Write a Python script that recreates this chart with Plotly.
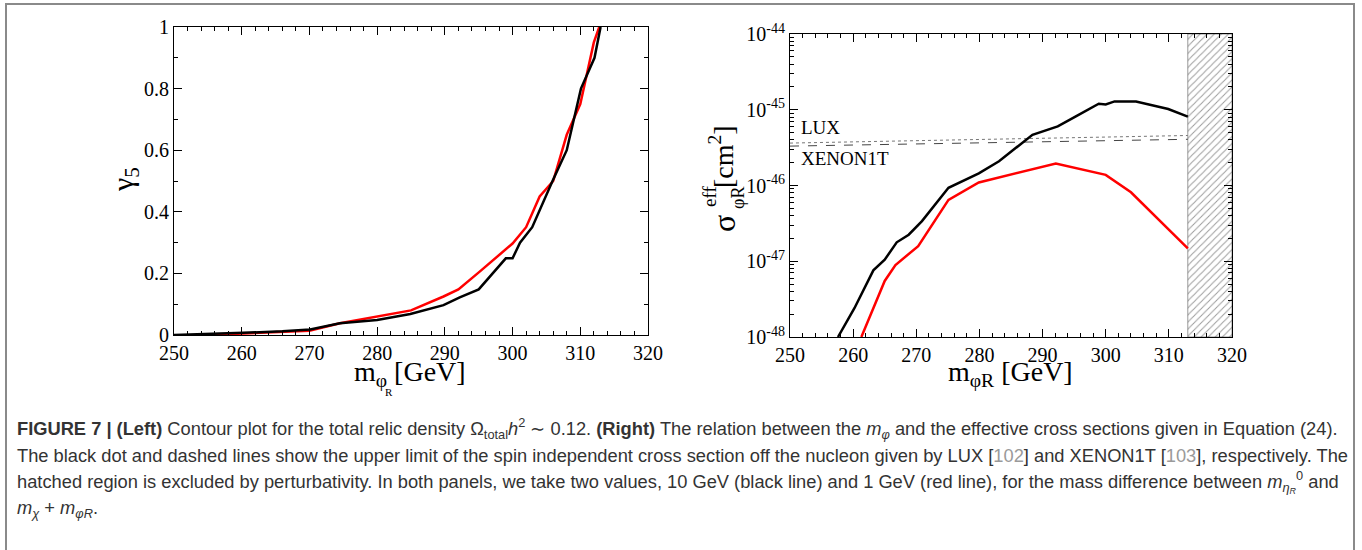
import plotly.graph_objects as go

# ---------------- data ----------------
# Left panel: gamma_5 vs m_phiR
left_black_m = [250, 255.3, 260.2, 266, 270.1, 274.5, 280, 284.9, 289.8, 292.2, 295.0,
                299, 300, 301.1, 302.9, 305.9, 308, 310.1, 312.1, 313]
left_black_g = [0.0, 0.003, 0.007, 0.012, 0.018, 0.038, 0.049, 0.068, 0.097, 0.122, 0.148,
                0.249, 0.249, 0.30, 0.35, 0.50, 0.60, 0.80, 0.90, 1.0]
left_red_m = [255.1, 260.2, 266, 270, 274.5, 280, 285, 289.8, 292, 295.1, 300, 302,
              304, 306, 308, 310, 312, 312.8]
left_red_g = [0.0, 0.004, 0.009, 0.014, 0.038, 0.06, 0.08, 0.125, 0.148, 0.205, 0.297, 0.35,
              0.45, 0.50, 0.65, 0.75, 0.95, 1.0]

# Right panel: effective cross section (log10 values) vs m_phiR
right_black_m = [257.6, 260.2, 263.2, 265.0, 266.9, 268.8, 270.9, 275.1, 279.9, 283.1, 288.4,
                 292.4, 295.2, 298.9, 300.0, 301.4, 304.8, 307.6, 309.9, 313.0]
right_black_log = [-48.0, -47.62, -47.12, -46.98, -46.75, -46.65, -46.47, -46.03, -45.84, -45.68,
                   -45.33, -45.22, -45.09, -44.92, -44.93, -44.89, -44.89, -44.95, -44.99, -45.09]
right_red_m = [261.3, 265.0, 266.7, 270.3, 275.1, 279.9, 292.1, 300.0, 304.0, 307.3, 313.0]
right_red_log = [-48.0, -47.26, -47.05, -46.80, -46.19, -45.96, -45.71, -45.86, -46.09, -46.36, -46.83]

lux_m = [250, 313]
lux_log = [-45.44, -45.34]
xenon_m = [250, 313]
xenon_log = [-45.48, -45.39]

hatch_m = [313, 320]

left_xticks = [250, 260, 270, 280, 290, 300, 310, 320]
left_yticks = [0, 0.2, 0.4, 0.6, 0.8, 1.0]
left_yticklabels = ["0", "0.2", "0.4", "0.6", "0.8", "1"]
right_yexps = [-48, -47, -46, -45, -44]

# ---------------- figure ----------------
W, H = 1362, 550
SERIF = "Liberation Serif"
CAP = "Liberation Sans"


def px(x):
    return x / W


def py(y):
    return 1 - y / H


fig = go.Figure()

fig.add_trace(go.Scatter(x=left_red_m, y=left_red_g, mode="lines",
                         line=dict(color="#ff0000", width=2.5), xaxis="x", yaxis="y"))
fig.add_trace(go.Scatter(x=left_black_m, y=left_black_g, mode="lines",
                         line=dict(color="black", width=2.5), xaxis="x", yaxis="y"))

# hatched region
fig.add_trace(go.Scatter(x=[hatch_m[0], hatch_m[1], hatch_m[1], hatch_m[0], hatch_m[0]],
                         y=[1e-48, 1e-48, 1e-44, 1e-44, 1e-48],
                         mode="lines", fill="toself", fillcolor="white",
                         fillpattern=dict(shape="/", fgcolor="#3a3a3a", bgcolor="white",
                                          size=5, solidity=0.2),
                         line=dict(color="#555555", width=0.6), xaxis="x2", yaxis="y2"))

fig.add_trace(go.Scatter(x=lux_m, y=[10 ** v for v in lux_log], mode="lines",
                         line=dict(color="#777777", width=1, dash="dot"), xaxis="x2", yaxis="y2"))
fig.add_trace(go.Scatter(x=xenon_m, y=[10 ** v for v in xenon_log], mode="lines",
                         line=dict(color="#444444", width=1, dash="dash"), xaxis="x2", yaxis="y2"))
fig.add_trace(go.Scatter(x=right_red_m, y=[10 ** v for v in right_red_log], mode="lines",
                         line=dict(color="#ff0000", width=2.5), xaxis="x2", yaxis="y2"))
fig.add_trace(go.Scatter(x=right_black_m, y=[10 ** v for v in right_black_log], mode="lines",
                         line=dict(color="black", width=2.5), xaxis="x2", yaxis="y2"))

axis_common = dict(showline=True, linecolor="black", linewidth=1, mirror="allticks",
                   ticks="inside", ticklen=8, tickcolor="black", tickwidth=1,
                   showgrid=False, zeroline=False, automargin=False,
                   tickfont=dict(family=SERIF, size=20, color="black"))

minor_vals = [k * 10.0 ** e for e in range(-48, -44) for k in range(2, 10)]

fig.update_layout(
    width=W, height=H, margin=dict(l=0, r=0, t=0, b=0, autoexpand=False),
    paper_bgcolor="white", plot_bgcolor="white", showlegend=False,
    xaxis=dict(domain=[px(174), px(648)], range=[250, 320], anchor="y",
               tickvals=left_xticks, ticktext=[str(v) for v in left_xticks],
               minor=dict(ticks="inside", ticklen=4, dtick=2, tick0=250, tickcolor="black"),
               **axis_common),
    yaxis=dict(domain=[py(335), py(27)], range=[0, 1], anchor="x",
               tickvals=left_yticks, ticktext=left_yticklabels,
               minor=dict(ticks="inside", ticklen=4, dtick=0.1, tick0=0, tickcolor="black"),
               **axis_common),
    xaxis2=dict(domain=[px(790), px(1232)], range=[250, 320], anchor="y2",
                tickvals=left_xticks, ticktext=[str(v) for v in left_xticks],
                minor=dict(ticks="inside", ticklen=4, dtick=2, tick0=250, tickcolor="black"),
                **axis_common),
    yaxis2=dict(domain=[py(337), py(34)], type="log", range=[-48, -44], anchor="x2",
                tickvals=[10.0 ** e for e in right_yexps],
                ticktext=["10<sup>%d</sup>" % e for e in right_yexps],
                minor=dict(ticks="inside", ticklen=4, tickvals=minor_vals, tickcolor="black"),
                **axis_common),
)

ann = []


def lab(x, y, text, size, angle=0, xanchor="center"):
    ann.append(dict(x=px(x), y=py(y), xref="paper", yref="paper", text=text, showarrow=False,
                    xanchor=xanchor, yanchor="middle", textangle=angle,
                    font=dict(family=SERIF, size=size, color="black")))


# axis titles left
lab(410, 373, "m<sub>φ</sub> [GeV]", 28)
lab(389, 392, "R", 11)
lab(125, 180, "γ<sub>5</sub>", 30, angle=-90)
# axis titles right
lab(1010, 373, "m<sub>φR</sub> [GeV]", 28)
lab(724, 224, "σ", 32, angle=-90)
lab(709, 197, "eff", 19, angle=-90)
lab(738, 198, "φR", 18, angle=-90)
lab(722, 157, "[cm<sup>2</sup>]", 28, angle=-90)

# LUX / XENON labels
ann.append(dict(x=251.5, y=-45.23, xref="x2", yref="y2", text="LUX", showarrow=False,
                xanchor="left", yanchor="middle", font=dict(family=SERIF, size=19, color="black")))
ann.append(dict(x=251.5, y=-45.64, xref="x2", yref="y2", text="XENON1T", showarrow=False,
                xanchor="left", yanchor="middle", font=dict(family=SERIF, size=19, color="black")))

# caption
cap_font = dict(family=CAP, size=18.3, color="#333333")
ref = "<span style='color:#9a9a9a'>%s</span>"
lines = [
    "<b>FIGURE 7 | (Left)</b> Contour plot for the total relic density Ω<sub>total</sub><i>h</i><sup>2</sup> ∼ 0.12. "
    "<b>(Right)</b> The relation between the <i>m</i><sub><i>φ</i></sub> and the effective cross sections given in Equation (24).",
    "The black dot and dashed lines show the upper limit of the spin independent cross section off the nucleon given by LUX ["
    + ref % "102" + "] and XENON1T [" + ref % "103" + "], respectively. The",
    "hatched region is excluded by perturbativity. In both panels, we take two values, 10 GeV (black line) and 1 GeV (red line), "
    "for the mass difference between <i>m</i><sub><i>η</i><sub><i>R</i></sub></sub><sup>0</sup> and",
    "<i>m</i><sub><i>χ</i></sub> + <i>m</i><sub><i>φR</i></sub>.",
]
ys = [428, 455, 482, 509]
for t, yy in zip(lines, ys):
    ann.append(dict(x=px(15), y=py(yy), xref="paper", yref="paper", text=t, showarrow=False,
                    xanchor="left", yanchor="middle", align="left", font=cap_font))

fig.update_layout(annotations=ann)

# outer frame
fig.add_shape(type="rect", xref="paper", yref="paper", x0=px(6), x1=px(1354), y0=-0.05, y1=py(4),
              line=dict(color="#8a8a8a", width=2), fillcolor="rgba(0,0,0,0)", layer="below")

fig.write_html("out.html")
